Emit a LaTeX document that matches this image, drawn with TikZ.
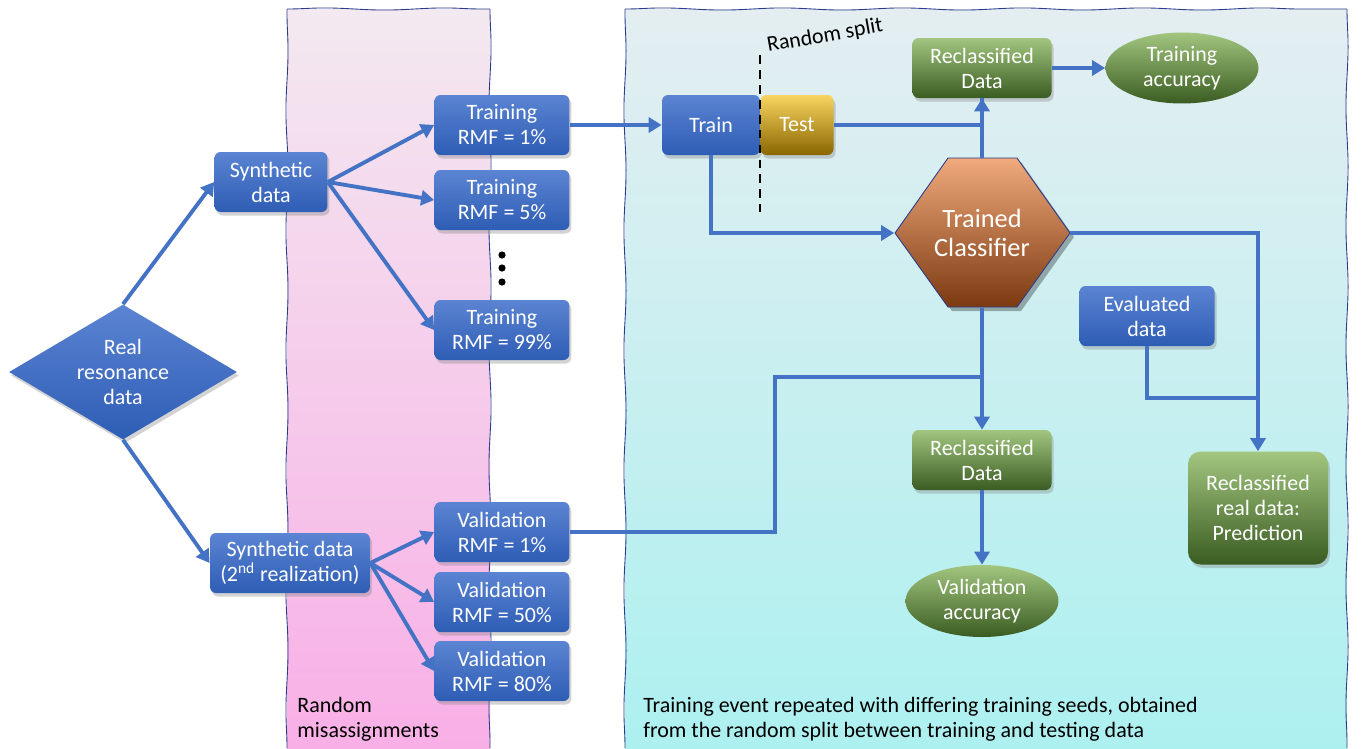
\documentclass[tikz,border=0pt]{standalone}
\usepackage{fontspec}
\setmainfont{Carlito}
\usetikzlibrary{shapes.geometric, arrows.meta, positioning, calc, shadows, decorations.pathmorphing}

\definecolor{blueT}{HTML}{5B84D2}
\definecolor{blueB}{HTML}{2E5DB5}
\definecolor{greenT}{HTML}{A2C67F}
\definecolor{greenB}{HTML}{3A5C22}
\definecolor{goldT}{HTML}{F8D560}
\definecolor{goldB}{HTML}{8A6600}
\definecolor{orangeT}{HTML}{F0AA7C}
\definecolor{orangeM}{HTML}{C45712}
\definecolor{orangeB}{HTML}{7C3910}
\definecolor{pinkT}{HTML}{F3E9F0}
\definecolor{pinkB}{HTML}{F8AFE6}
\definecolor{cyanT}{HTML}{E4EEF1}
\definecolor{cyanB}{HTML}{ADF0F0}
\definecolor{bandline}{HTML}{2B3C8C}
\definecolor{linkblue}{HTML}{4472C4}

\newcommand{\boxfont}{\fontsize{12.5}{14.2}\selectfont}
\newcommand{\hexfont}{\fontsize{15}{17}\selectfont}

\tikzset{
  box/.style={rounded corners=0.12cm, minimum height=1.2cm, minimum width=2.7cm,
    align=center, text=white, font=\boxfont, inner sep=2pt,
    drop shadow={shadow xshift=0.04cm, shadow yshift=-0.07cm, opacity=0.35}},
  bluebox/.style={box, top color=blueT, bottom color=blueB},
  greenbox/.style={box, top color=greenT, bottom color=greenB},
  greenoval/.style={ellipse, minimum width=3.06cm, minimum height=1.42cm, inner sep=0pt,
    align=center, text=white, font=\boxfont, top color=greenT, bottom color=greenB},
  link/.style={draw=linkblue, line width=2.2pt, -{Triangle[length=0.26cm, width=0.3cm]}},
  plainlink/.style={draw=linkblue, line width=2.2pt},
  bandedge/.style={draw=bandline, line width=0.5pt, decorate,
    decoration={snake, segment length=2.4cm, amplitude=0.6pt}},
  note/.style={align=left, font=\boxfont, inner sep=0pt, anchor=north west}
}

\begin{document}
\begin{tikzpicture}[x=0.02cm, y=-0.02cm]
\useasboundingbox (0,0) rectangle (1362,748);

% Background bands
\shade[top color=pinkT, bottom color=pinkB] (287,9) rectangle (490,748);
\foreach \a/\b in {{(287,748)}/{(287,9)}, {(287,9)}/{(490,9)}, {(490,9)}/{(490,748)}} {
    \draw[bandedge] \a -- \b;
}
\shade[top color=cyanT, bottom color=cyanB] (625,9) rectangle (1347,748);
\foreach \a/\b in {{(625,748)}/{(625,9)}, {(625,9)}/{(1347,9)}, {(1347,9)}/{(1347,748)}} {
    \draw[bandedge] \a -- \b;
}

\node[note] (misl) at (297,697) {Random\\misassignments};
\node[note] (repl) at (643,697) {Training event repeated with differing training seeds, obtained\\from the random split between training and testing data};

% Real data and synthetic sets
\node[diamond, aspect=1.7, inner sep=0pt, minimum width=4.56cm, minimum height=2.7cm,
  align=center, text=white, font=\boxfont, top color=blueT, bottom color=blueB,
  drop shadow={shadow xshift=0.04cm, shadow yshift=-0.07cm, opacity=0.35}]
  (real) at (123,372) {Real\\resonance\\data};
\node[bluebox, minimum width=2.26cm] (syn) at (271,182) {Synthetic\\data};
\node[bluebox, minimum width=3.2cm] (syn2) at (290,563) {Synthetic data\\(2\textsuperscript{nd} realization)};

% Training sets
\node[bluebox] (tr1) at (502,125) {Training\\RMF = 1\%};
\node[bluebox] (tr5) at (502,200) {Training\\RMF = 5\%};
\node[bluebox] (tr99) at (502,330) {Training\\RMF = 99\%};
\foreach \y in {255,268,282} {
    \fill (502,\y) circle (3.6);
}

% Validation sets
\node[bluebox] (va1) at (502,532) {Validation\\RMF = 1\%};
\node[bluebox] (va50) at (502,602) {Validation\\RMF = 50\%};
\node[bluebox] (va80) at (502,671) {Validation\\RMF = 80\%};

% Training event
\node[bluebox, minimum width=1.96cm] (train) at (711,125) {Train};
\node[box, minimum width=1.46cm, top color=goldT, bottom color=goldB] (test) at (797,125) {Test};
\coordinate (cutT) at (760,55);
\coordinate (cutB) at (760,212);
\draw[black, line width=1.2pt, dash pattern=on 5pt off 3.5pt] (cutT) -- (cutB);
\node[font=\boxfont, rotate=10] (splitl) at (825,36) {Random split};

\node[greenbox, minimum width=2.78cm] (rc1) at (982,68) {Reclassified\\Data};
\node[greenoval] (tacc) at (1182,68) {Training\\accuracy};

% Trained classifier
\fill[black, opacity=0.3] (899,237) -- (952,162) -- (1021,162) -- (1074,237) -- (1021,311) -- (952,311) -- cycle;
\shade[top color=orangeT, middle color=orangeM, bottom color=orangeB, draw=bandline, line width=0.5pt]
  (895,233) -- (948,158) -- (1017,158) -- (1070,233) -- (1017,307) -- (948,307) -- cycle;
\node[minimum width=3.5cm, minimum height=2.98cm, align=center, text=white, font=\hexfont]
  (clf) at (982,233) {Trained\\Classifier};

\node[bluebox] (eval) at (1147,316) {Evaluated\\data};
\node[greenbox, minimum width=2.78cm] (rc2) at (982,460) {Reclassified\\Data};
\node[greenoval, minimum height=1.44cm] (vacc) at (982,601) {Validation\\accuracy};
\node[greenbox, rounded corners=0.25cm, minimum width=2.8cm, minimum height=2.26cm] (pred) at (1258,508) {Reclassified\\real data:\\Prediction};

% Connectors
\draw[link] (real.north) -- (syn.west);
\draw[link] (real.south) -- (syn2.west);
\foreach \t in {tr1, tr5, tr99} {
    \draw[link] (syn.east) -- (\t.west);
}
\foreach \v in {va1, va50, va80} {
    \draw[link] (syn2.east) -- (\v.west);
}
\draw[link] (tr1) -- (train);
\draw[link] (train.south) |- (clf.west);
\draw[plainlink] (clf.north) -- (rc1.south);
\draw[link] (test.east) -| (rc1.south);
\draw[link] (rc1) -- (tacc);

\coordinate (evj) at (1258,398);
\draw[plainlink] (eval.south) |- (evj);
\draw[link] (clf.east) -| (pred.north);

\coordinate (vbend) at (775,377);
\coordinate (vjoin) at (982,377);
\draw[plainlink] (va1.east) -| (vbend) -- (vjoin);
\draw[link] (clf.south) -- (rc2.north);
\draw[link] (rc2) -- (vacc);

\end{tikzpicture}
\end{document}
